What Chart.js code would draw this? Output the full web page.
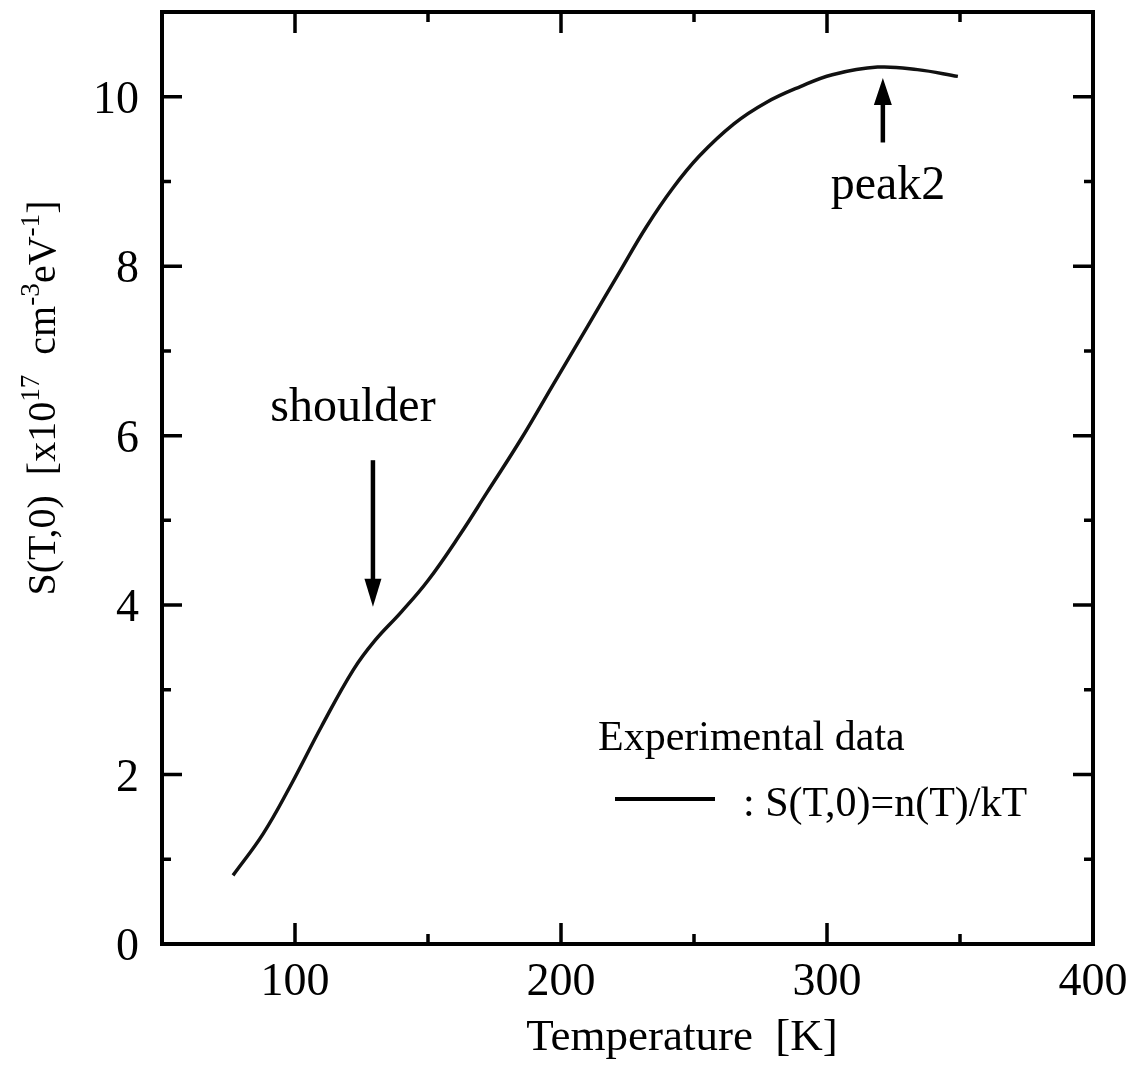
<!DOCTYPE html>
<html>
<head>
<meta charset="utf-8">
<script src="https://cdn.jsdelivr.net/npm/chart.js@4/dist/chart.umd.min.js"></script>
<style>
  html, body { margin: 0; padding: 0; background: #fff; }
  #wrap { width: 1137px; height: 1066px; }
</style>
</head>
<body>
<div id="wrap"><canvas id="chart" width="1137" height="1066"></canvas></div>
<script>
/* ---------- data ---------- */
const temperature = [76.7, 88, 98, 110, 121.8, 130, 140, 150, 162, 172.2,
                     185, 197, 210, 222, 232, 242, 252, 265, 277, 290,
                     302, 319, 334, 349.2];
const sValues     = [0.81, 1.30, 1.85, 2.57, 3.23, 3.58, 3.92, 4.29, 4.83, 5.33,
                     5.96, 6.60, 7.29, 7.93, 8.46, 8.92, 9.30, 9.68, 9.93, 10.12,
                     10.26, 10.35, 10.32, 10.24];

const xMajor = [100, 200, 300, 400];
const xMinor = [150, 250, 350];
const yMajor = [0, 2, 4, 6, 8, 10];
const yMinor = [1, 3, 5, 7, 9];

const SERIF = '"Liberation Serif", "Times New Roman", serif';

/* ---------- helpers ---------- */
function arrow(ctx, x, y0, y1, headW, headH) {
  // vertical arrow from y0 to y1 (tip at y1)
  const dir = y1 > y0 ? 1 : -1;
  ctx.beginPath();
  ctx.lineWidth = 4.5;
  ctx.moveTo(x, y0);
  ctx.lineTo(x, y1 - dir * headH * 0.8);
  ctx.stroke();
  ctx.beginPath();
  ctx.moveTo(x, y1);
  ctx.lineTo(x - headW / 2, y1 - dir * headH);
  ctx.lineTo(x + headW / 2, y1 - dir * headH);
  ctx.closePath();
  ctx.fill();
}

// text pieces with superscripts
function richWidth(ctx, parts, size) {
  let w = 0;
  parts.forEach(p => {
    ctx.font = (p.sup ? size * 0.68 : size) + 'px ' + SERIF;
    w += ctx.measureText(p.t).width;
  });
  return w;
}
function richText(ctx, parts, x, y, size) {
  let cx = x;
  parts.forEach(p => {
    ctx.font = (p.sup ? size * 0.68 : size) + 'px ' + SERIF;
    ctx.fillText(p.t, cx, p.sup ? y - size * 0.4 : y);
    cx += ctx.measureText(p.t).width;
  });
}

/* ---------- frame, ticks, labels, notes ---------- */
const decor = {
  id: 'decor',
  afterDatasetsDraw(chart) {
    const { ctx, chartArea: a, scales: { x, y } } = chart;
    ctx.save();
    ctx.strokeStyle = '#000';
    ctx.fillStyle = '#000';

    // frame
    ctx.lineWidth = 4;
    ctx.strokeRect(a.left, a.top, a.right - a.left, a.bottom - a.top);

    // x ticks (bottom + top, inward)
    ctx.lineWidth = 3.5;
    const xt = (v, len) => {
      const px = x.getPixelForValue(v);
      ctx.beginPath();
      ctx.moveTo(px, a.bottom); ctx.lineTo(px, a.bottom - len);
      ctx.moveTo(px, a.top);    ctx.lineTo(px, a.top + len);
      ctx.stroke();
    };
    xMajor.forEach(v => xt(v, 21));
    xMinor.forEach(v => xt(v, 10));

    // y ticks (left + right, inward)
    const yt = (v, len) => {
      const py = y.getPixelForValue(v);
      ctx.beginPath();
      ctx.moveTo(a.left, py);  ctx.lineTo(a.left + len, py);
      ctx.moveTo(a.right, py); ctx.lineTo(a.right - len, py);
      ctx.stroke();
    };
    yMajor.forEach(v => yt(v, 20));
    yMinor.forEach(v => yt(v, 9));

    // tick labels
    ctx.font = '46px ' + SERIF;
    ctx.textAlign = 'center';
    ctx.textBaseline = 'alphabetic';
    xMajor.forEach(v => ctx.fillText(String(v), x.getPixelForValue(v), 995));
    ctx.textAlign = 'right';
    yMajor.forEach(v => ctx.fillText(String(v), 139, y.getPixelForValue(v) + 16));

    // x title
    ctx.textAlign = 'center';
    ctx.font = '45px ' + SERIF;
    ctx.fillText('Temperature  [K]', 682, 1050);

    // y title (rotated, with superscripts)
    ctx.save();
    ctx.translate(55, 398);
    ctx.rotate(-Math.PI / 2);
    ctx.textAlign = 'left';
    const yParts = [
      { t: 'S(T,0)  [x10' }, { t: '17', sup: true },
      { t: '  cm' }, { t: '-3', sup: true },
      { t: 'eV' }, { t: '-1', sup: true }, { t: ']' }
    ];
    const ySize = 40;
    richText(ctx, yParts, -richWidth(ctx, yParts, ySize) / 2, 0, ySize);
    ctx.restore();

    // annotations
    ctx.textAlign = 'center';
    ctx.font = '48px ' + SERIF;
    ctx.fillText('shoulder', 353, 421);
    ctx.fillText('peak2', 888, 199);
    arrow(ctx, x.getPixelForValue(129.3), y.getPixelForValue(5.71), y.getPixelForValue(3.98), 17, 28);
    arrow(ctx, x.getPixelForValue(321), y.getPixelForValue(9.46), y.getPixelForValue(10.22), 18, 27);

    // legend
    ctx.textAlign = 'left';
    ctx.font = '42px ' + SERIF;
    ctx.fillText('Experimental data', 598, 750);
    ctx.fillText(': S(T,0)=n(T)/kT', 743, 816);
    ctx.lineWidth = 4;
    ctx.beginPath();
    ctx.moveTo(615, 799); ctx.lineTo(715, 799);
    ctx.stroke();

    ctx.restore();
  }
};

new Chart(document.getElementById('chart'), {
  type: 'scatter',
  data: {
    datasets: [{
      label: 'S(T,0)=n(T)/kT',
      data: temperature.map((t, i) => ({ x: t, y: sValues[i] })),
      showLine: true,
      borderColor: '#111',
      borderWidth: 3.5,
      pointRadius: 0,
      tension: 0.4,
      fill: false
    }]
  },
  options: {
    responsive: false,
    animation: false,
    devicePixelRatio: 1,
    layout: { padding: { left: 162, top: 12, right: 44, bottom: 122 } },
    plugins: { legend: { display: false }, tooltip: { enabled: false } },
    scales: {
      x: { type: 'linear', min: 50, max: 400, display: false },
      y: { type: 'linear', min: 0, max: 11, display: false }
    }
  },
  plugins: [decor]
});
</script>
</body>
</html>
